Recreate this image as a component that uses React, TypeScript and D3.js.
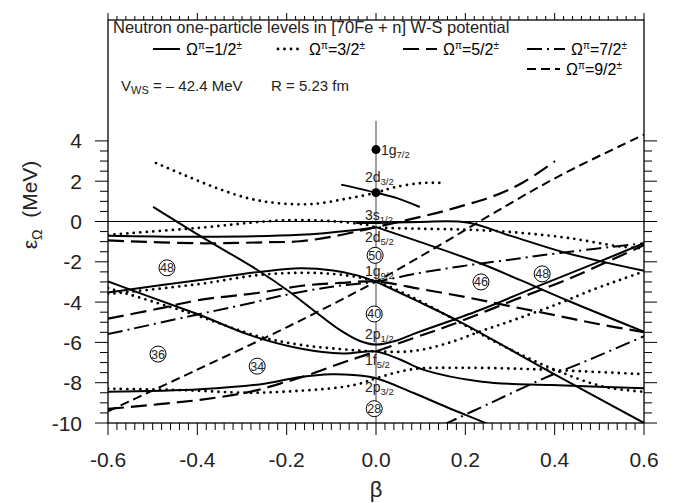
import React from 'react';
import * as d3 from 'd3';

// spherical levels at beta = 0 (MeV)
const e1g72 = 3.57;
const e2d32 = 1.43;
const e2d52 = -0.28;
const e1g92 = -2.98;
const e2p12 = -6.11;
const e1f52 = -6.45;
const e2p32 = -7.78;

const betaTicks = [-0.6, -0.4, -0.2, 0, 0.2, 0.4, 0.6];
const betaLabels = ['-0.6', '-0.4', '-0.2', '0.0', '0.2', '0.4', '0.6'];
const energyTicks = [-10, -8, -6, -4, -2, 0, 2, 4];

type Pt = [number, number];

// Omega = 1/2 (solid)
const omega12: Pt[][] = [
  [[-0.078, 1.83], [0, e2d32], [0.047, 1.16], [0.098, 0.72]],
  [[-0.6, -0.71], [-0.394, -0.76], [-0.17, -0.66], [-0.051, -0.43], [0, e2d52]],
  [[-0.045, -0.07], [0, -0.07], [0.098, -0.02], [0.204, -0.05], [0.3, -0.7], [0.427, -1.57], [0.6, -2.45]],
  [[0, e2d52], [0.233, -2.07], [0.322, -2.9], [0.434, -3.97], [0.6, -5.47]],
  [[0, e1g92], [0.086, -3.88], [0.188, -4.98], [0.401, -7.6], [0.6, -10], [0.62, -10.25]],
  [[-0.6, -3.52], [-0.394, -2.9], [-0.26, -2.5], [-0.17, -2.32], [-0.096, -2.43], [-0.047, -2.65], [0, e1g92]],
  [[-0.499, 0.73], [-0.394, -0.71], [-0.26, -2.48], [-0.193, -3.5], [-0.141, -4.39], [-0.081, -5.38], [-0.036, -5.93],
    [0, e2p12], [0.043, -5.93], [0.083, -5.59], [0.233, -4.39], [0.367, -3.17], [0.501, -1.98], [0.6, -1.08]],
  [[-0.6, -2.98], [-0.445, -4.23], [-0.394, -4.64], [-0.282, -5.64], [-0.17, -6.3], [-0.074, -6.55], [0, e1f52],
    [0.054, -6.85], [0.105, -7.35], [0.237, -7.95], [0.394, -8.12], [0.6, -8.28]],
  [[-0.6, -8.45], [-0.394, -8.32], [-0.25, -8.05], [-0.17, -7.72], [-0.1, -7.58], [-0.05, -7.62], [0, e2p32],
    [0.083, -8.5], [0.159, -9.22], [0.245, -10], [0.27, -10.25]],
];

// Omega = 3/2 (dotted)
const omega32: Pt[][] = [
  [[-0.4925, 2.9], [-0.431, 2.32], [-0.357, 1.66], [-0.282, 1.13], [-0.215, 0.9], [-0.141, 0.87], [-0.066, 1.13],
    [0, e2d32], [0.038, 1.68], [0.0985, 1.9], [0.147, 1.92]],
  [[-0.6, -0.66], [-0.394, -0.31], [-0.244, 0.01], [-0.17, 0.07], [-0.096, 0.01], [-0.02, -0.17], [0, e2d52],
    [0.0985, -0.36], [0.21, -0.41], [0.322, -0.56], [0.434, -0.83], [0.546, -1.24], [0.6, -1.33]],
  [[-0.6, -3.6], [-0.394, -3.1], [-0.26, -2.65], [-0.141, -2.55], [-0.058, -2.7], [0, e1g92], [0.076, -3.7],
    [0.166, -4.75], [0.278, -6.1], [0.394, -7.3], [0.51, -8.2], [0.6, -8.45]],
  [[-0.6, -3.3], [-0.445, -4.35], [-0.394, -4.72], [-0.26, -5.72], [-0.17, -6.12], [-0.081, -6.33], [0, e1f52],
    [0.083, -6.43], [0.159, -6.05], [0.237, -5.43], [0.316, -4.83], [0.412, -4.05], [0.486, -3.38], [0.546, -2.9], [0.6, -2.48]],
  [[-0.6, -8.3], [-0.432, -8.37], [-0.282, -8.5], [-0.17, -8.4], [-0.081, -8.23], [-0.036, -8.05], [0, e2p32],
    [0.083, -7.33], [0.188, -7.26], [0.322, -7.31], [0.457, -7.43], [0.6, -7.58]],
];

// Omega = 5/2 (long dash)
const omega52: Pt[][] = [
  [[-0.6, -0.94], [-0.394, -1.08], [-0.244, -1.03], [-0.17, -0.98], [-0.096, -0.74], [-0.036, -0.46], [0, e2d52],
    [0.137, 0.43], [0.2, 0.82], [0.262, 1.25], [0.33, 1.95], [0.401, 3.0]],
  [[-0.6, -4.82], [-0.49, -4.34], [-0.394, -3.89], [-0.266, -3.55], [-0.17, -3.2], [-0.081, -3.05], [0, e1g92],
    [0.1, -3.35], [0.2, -3.75], [0.3, -4.2], [0.4, -4.65], [0.5, -5.1], [0.6, -5.49]],
  [[-0.6, -9.3], [-0.394, -8.85], [-0.282, -8.45], [-0.2, -7.95], [-0.152, -7.62], [-0.074, -7.0], [0, e1f52],
    [0.083, -5.79], [0.161, -5.19], [0.309, -3.9], [0.434, -2.82], [0.6, -1.17]],
];

// Omega = 7/2 (dash-dot)
const omega72: Pt[][] = [
  [[-0.6, -5.59], [-0.394, -4.59], [-0.282, -4.06], [-0.215, -3.7], [-0.103, -3.25], [0, e1g92], [0.0985, -2.55],
    [0.188, -2.23], [0.278, -1.96], [0.412, -1.56], [0.6, -1.08]],
  [[0.15, -10.1], [0.255, -9.02], [0.367, -7.87], [0.486, -6.78], [0.6, -5.69]],
];

// Omega = 9/2 (short dash)
const omega92: Pt[][] = [
  [[-0.6, -9.42], [-0.4, -7.35], [-0.2, -5.25], [0, e1g92], [0.137, -1.25], [0.262, 0.4], [0.412, 2.28], [0.6, 4.31]],
];

const spherical = [
  { orb: '1g', j: '7/2', labelE: 3.32, right: true },
  { orb: '2d', j: '3/2', labelE: 1.94 },
  { orb: '3s', j: '1/2', labelE: 0.05 },
  { orb: '2d', j: '5/2', labelE: -1.0 },
  { orb: '1g', j: '9/2', labelE: -2.68 },
  { orb: '2p', j: '1/2', labelE: -5.84 },
  { orb: '1f', j: '5/2', labelE: -7.13 },
  { orb: '2p', j: '3/2', labelE: -8.46 },
];
const sphericalDots = [e1g72, e2d32];

const magic = [
  { n: '48', beta: -0.468, e: -2.3 },
  { n: '50', beta: -0.002, e: -1.68 },
  { n: '46', beta: 0.235, e: -3.0 },
  { n: '48', beta: 0.372, e: -2.6 },
  { n: '40', beta: -0.004, e: -4.59 },
  { n: '36', beta: -0.488, e: -6.58 },
  { n: '34', beta: -0.266, e: -7.18 },
  { n: '28', beta: -0.004, e: -9.29 },
];

const styles: Record<string, { dash?: string; width: number; cap: 'butt' | 'round' }> = {
  '1/2': { width: 2, cap: 'butt' },
  '3/2': { dash: '0 6.5', width: 2.8, cap: 'round' },
  '5/2': { dash: '16 7', width: 2.2, cap: 'butt' },
  '7/2': { dash: '15 5 2 5', width: 2, cap: 'butt' },
  '9/2': { dash: '9 5', width: 2, cap: 'butt' },
};

const series: [string, Pt[][]][] = [
  ['1/2', omega12], ['3/2', omega32], ['5/2', omega52], ['7/2', omega72], ['9/2', omega92],
];

const legendItems = [
  { om: '1/2', x0: 153, x1: 180, y: 49 },
  { om: '3/2', x0: 278, x1: 303, y: 49 },
  { om: '5/2', x0: 403, x1: 437, y: 49 },
  { om: '7/2', x0: 527, x1: 565, y: 49 },
  { om: '9/2', x0: 527, x1: 560, y: 69 },
];

const FONT = "'Liberation Sans', Arial, Helvetica, sans-serif";

function OmegaText({ x, y, om }: { x: number; y: number; om: string }) {
  return (
    <text x={x} y={y} fontSize={16}>
      Ω<tspan dy={-6} fontSize={10}>π</tspan>
      <tspan dy={6}>={om}</tspan>
      <tspan dy={-6} fontSize={10}>±</tspan>
    </text>
  );
}

export default function App() {
  const margin = { left: 108, right: 43, top: 20, bottom: 80 };
  const W = 687, H = 503;
  const x = d3.scaleLinear().domain([-0.6, 0.6]).range([margin.left, W - margin.right]);
  const y = d3.scaleLinear().domain([-10, 10]).range([H - margin.bottom, margin.top]);
  const line = d3.line<Pt>().x(d => x(d[0])).y(d => y(d[1])).curve(d3.curveCatmullRom.alpha(0.5));

  const x0 = x(-0.6), x1 = x(0.6), yT = y(10), yB = y(-10);
  const minorBeta = d3.range(0, 61).map(i => ({ v: -0.6 + i * 0.02, major: i % 10 === 0 }));
  const minorE = d3.range(0, 29).map(i => ({ v: -10 + i * 0.5, major: i % 4 === 0 }));

  return (
    <svg width={W} height={H} style={{ position: 'absolute', left: 0, top: 0, background: '#fff' }} fontFamily={FONT}>
      <defs>
        <clipPath id="plot">
          <rect x={x0} y={yT} width={x1 - x0} height={yB - yT} />
        </clipPath>
      </defs>

      {/* beta = 0 axis and zero energy */}
      <line x1={x(0)} x2={x(0)} y1={y(5)} y2={yB} stroke="#808080" strokeWidth={1.5} />
      <line x1={x0} x2={x1} y1={y(0)} y2={y(0)} stroke="#000" strokeWidth={1} />

      <g clipPath="url(#plot)" fill="none" stroke="#000">
        {series.map(([om, curves]) =>
          curves.map((c, i) => (
            <path key={om + i} d={line(c) || ''} strokeWidth={styles[om].width}
              strokeDasharray={styles[om].dash} strokeLinecap={styles[om].cap} />
          ))
        )}
      </g>

      {sphericalDots.map((e, i) => (
        <circle key={i} cx={x(0)} cy={y(e)} r={4.5} fill="#000" />
      ))}

      {spherical.map((s, i) => (
        <text key={i} x={s.right ? x(0) + 5 : x(0) - 11} y={y(s.labelE)} fontSize={14} fill="#222">
          {s.orb}<tspan dy={3} fontSize={9.5}>{s.j}</tspan>
        </text>
      ))}

      {magic.map((m, i) => (
        <g key={i} transform={`translate(${x(m.beta)},${y(m.e)})`}>
          <circle r={8} fill="#fff" stroke="#000" strokeWidth={1} />
          <text textAnchor="middle" dy={4.5} fontSize={12.5} fill="#222">{m.n}</text>
        </g>
      ))}

      {/* frame */}
      <rect x={x0} y={yT} width={x1 - x0} height={yB - yT} fill="none" stroke="#000" strokeWidth={1.3} />

      {/* ticks */}
      <g stroke="#000" strokeWidth={1}>
        {minorBeta.map((t, i) => (
          <g key={i}>
            <line x1={x(t.v)} x2={x(t.v)} y1={yB} y2={yB + (t.major ? 12 : 7)} />
            <line x1={x(t.v)} x2={x(t.v)} y1={yT} y2={yT - (t.major ? 7 : 4)} />
          </g>
        ))}
        {minorE.map((t, i) => (
          <g key={i}>
            <line x1={x0} x2={x0 - (t.major ? 13 : 8)} y1={y(t.v)} y2={y(t.v)} />
            <line x1={x1} x2={x1 + (t.major ? 13 : 8)} y1={y(t.v)} y2={y(t.v)} />
          </g>
        ))}
      </g>

      {betaTicks.map((b, i) => (
        <text key={i} x={x(b)} y={yB + 44} fontSize={21} textAnchor="middle" fill="#222">{betaLabels[i]}</text>
      ))}
      {energyTicks.map((e, i) => (
        <text key={i} x={x0 - 26} y={y(e) + 7.5} fontSize={21} textAnchor="end" fill="#222">{e}</text>
      ))}

      <text x={x(0)} y={497} fontSize={22} textAnchor="middle" fill="#222">β</text>
      <text transform={`translate(37,205) rotate(-90)`} textAnchor="middle" fontSize={21} fill="#222">
        ε<tspan dy={5} fontSize={14}>Ω</tspan><tspan dy={-5}>{'\u00a0\u00a0'}(MeV)</tspan>
      </text>

      {/* legend */}
      <text x={113} y={33} fontSize={16.5} fill="#222">Neutron one-particle levels in [70Fe + n] W-S potential</text>
      {legendItems.map((l, i) => (
        <g key={i}>
          <line x1={l.x0} x2={l.x1} y1={l.y} y2={l.y} stroke="#000" strokeWidth={styles[l.om].width}
            strokeDasharray={styles[l.om].dash} strokeLinecap={styles[l.om].cap} />
          <OmegaText x={l.x1 + 6} y={l.y + 5.5} om={l.om} />
        </g>
      ))}
      <text x={121} y={91} fontSize={15} fill="#222">
        V<tspan dy={3} fontSize={11}>WS</tspan><tspan dy={-3}> = – 42.4 MeV</tspan>
      </text>
      <text x={271} y={91} fontSize={15} fill="#222">R = 5.23 fm</text>
    </svg>
  );
}
